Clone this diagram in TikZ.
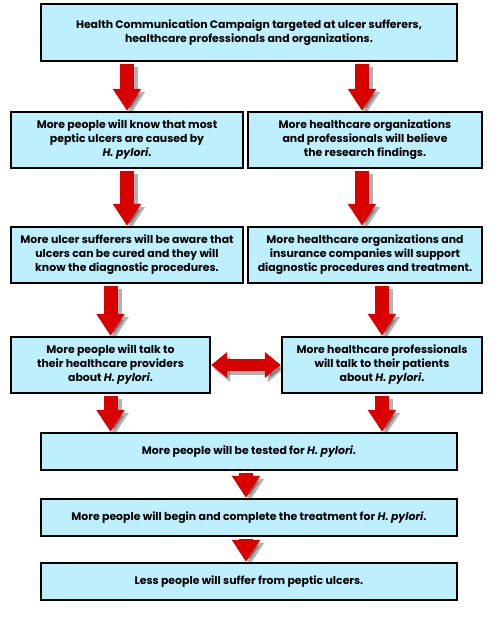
\documentclass[tikz,border=0pt]{standalone}
\usepackage{fontspec}
\setmainfont{Poppins}
\usetikzlibrary{arrows.meta}
\definecolor{boxfill}{HTML}{BDEFFD}
\definecolor{arrred}{HTML}{D90000}
\begin{document}
\begin{tikzpicture}[x=1pt,y=-1pt,
  box/.style={draw=black, line width=2.4pt, fill=boxfill, align=center, inner sep=0pt,
    font=\fontsize{10.9}{14}\selectfont\bfseries},
  shaftred/.style={draw=arrred, line width=14pt, shorten <=1.5pt,
    -{Triangle[width=27pt,length=22pt]}},
  shaftshadow/.style={draw=black, opacity=0.3, line width=14pt, shorten <=1.5pt,
    -{Triangle[width=27pt,length=22pt]}, transform canvas={shift={(4pt,-3pt)}}},
  dblred/.style={draw=arrred, line width=12pt,
    {Triangle[width=25pt,length=16pt]}-{Triangle[width=25pt,length=16pt]}},
  dblshadow/.style={draw=black, opacity=0.3, line width=12pt,
    {Triangle[width=25pt,length=16pt]}-{Triangle[width=25pt,length=16pt]},
    transform canvas={shift={(3pt,-4pt)}}},
]
\useasboundingbox (0,0) rectangle (496,643);
\fill[white] (0,0) rectangle (496,643);

\node[box, minimum width=416pt, minimum height=57pt] (top) at (249,32.5)
  {Health Communication Campaign targeted at ulcer sufferers,\\healthcare professionals and organizations.};

\node[box, minimum width=232pt, minimum height=56pt] (r2l) at (127,140)
  {More people will know that most\\peptic ulcers are caused by\\\textit{H. pylori}.};
\node[box, minimum width=234pt, minimum height=56pt] (r2r) at (365,140)
  {More healthcare organizations\\and professionals will believe\\the research findings.};

\node[box, minimum width=232pt, minimum height=56pt] (r3l) at (127,255)
  {More ulcer sufferers will be aware that\\ulcers can be cured and they will\\know the diagnostic procedures.};
\node[box, minimum width=234pt, minimum height=56pt] (r3r) at (365,255)
  {More healthcare organizations and\\insurance companies will support\\diagnostic procedures and treatment.};

\node[box, minimum width=199pt, minimum height=56pt] (r4l) at (110.5,365)
  {More people will talk to\\their healthcare providers\\about \textit{H. pylori}.};
\node[box, minimum width=200pt, minimum height=56pt] (r4r) at (382,365)
  {More healthcare professionals\\will talk to their patients\\about \textit{H. pylori}.};

\node[box, minimum width=416pt, minimum height=37pt] (r5) at (249,451.5)
  {More people will be tested for \textit{H. pylori}.};
\node[box, minimum width=416pt, minimum height=37pt] (r6) at (249,517.5)
  {More people will begin and complete the treatment for \textit{H. pylori}.};
\node[box, minimum width=416pt, minimum height=37pt] (r7) at (249,581.5)
  {Less people will suffer from peptic ulcers.};

% shadows
\draw[shaftshadow] (top.south -| r2l.north) -- (r2l.north);
\draw[shaftshadow] ([xshift=-3pt]top.south -| r2r.north) -- ([xshift=-3pt]r2r.north);
\draw[shaftshadow] (r2l.south) -- (r3l.north);
\draw[shaftshadow] ([xshift=-3pt]r2r.south) -- ([xshift=-3pt]r3r.north);
\draw[shaftshadow] (r3l.south -| r4l.north) -- (r4l.north);
\draw[shaftshadow] (r3r.south -| r4r.north) -- (r4r.north);
\draw[shaftshadow] (r4l.south) -- (r5.north -| r4l.south);
\draw[shaftshadow] (r4r.south) -- (r5.north -| r4r.south);
\draw[shaftshadow] ([xshift=-3pt]r5.south) -- ([xshift=-3pt]r6.north);
\draw[shaftshadow] ([xshift=-3pt]r6.south) -- ([xshift=-3pt]r7.north);
\draw[dblshadow] (r4l.east) -- (r4r.west);

% arrows
\draw[shaftred] (top.south -| r2l.north) -- (r2l.north);
\draw[shaftred] ([xshift=-3pt]top.south -| r2r.north) -- ([xshift=-3pt]r2r.north);
\draw[shaftred] (r2l.south) -- (r3l.north);
\draw[shaftred] ([xshift=-3pt]r2r.south) -- ([xshift=-3pt]r3r.north);
\draw[shaftred] (r3l.south -| r4l.north) -- (r4l.north);
\draw[shaftred] (r3r.south -| r4r.north) -- (r4r.north);
\draw[shaftred] (r4l.south) -- (r5.north -| r4l.south);
\draw[shaftred] (r4r.south) -- (r5.north -| r4r.south);
\draw[shaftred] ([xshift=-3pt]r5.south) -- ([xshift=-3pt]r6.north);
\draw[shaftred] ([xshift=-3pt]r6.south) -- ([xshift=-3pt]r7.north);
\draw[dblred] (r4l.east) -- (r4r.west);
\end{tikzpicture}
\end{document}
